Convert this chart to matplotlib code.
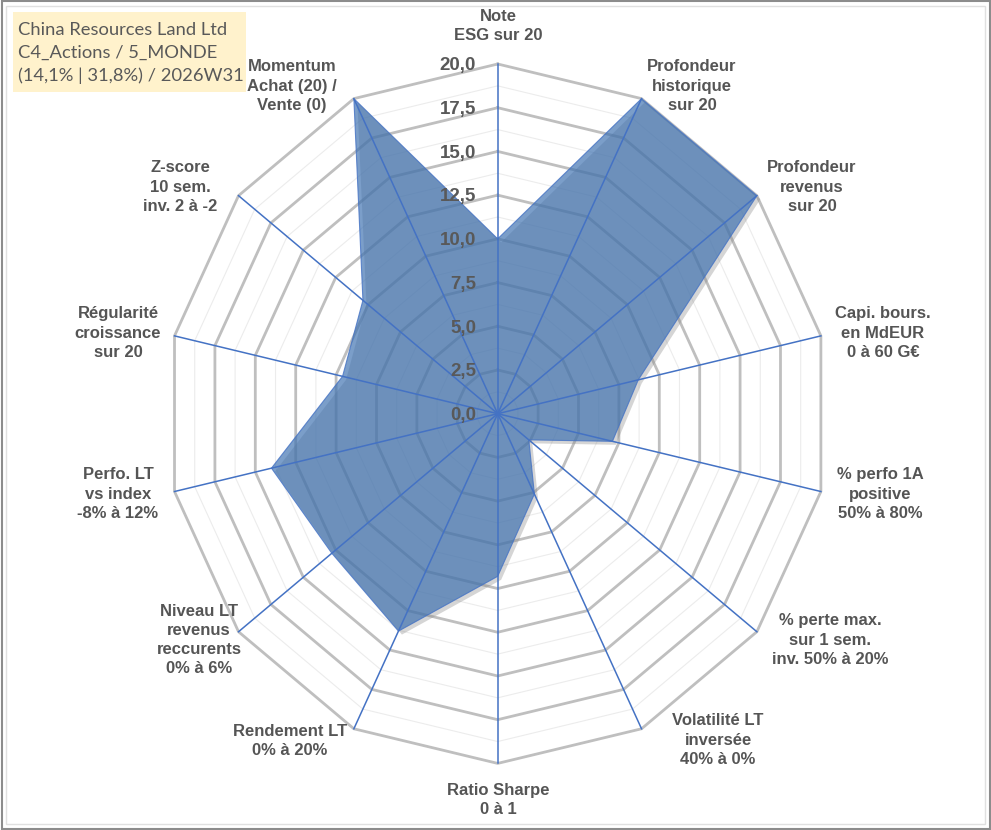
import numpy as np
import matplotlib
matplotlib.use('Agg')
import matplotlib.pyplot as plt
import matplotlib.patheffects as pe
from matplotlib.patches import Rectangle

# radar chart: one stock scored on 14 criteria (0..20)

criteres = ['Note\nESG sur 20',
            'Profondeur\nhistorique\nsur 20',
            'Profondeur\nrevenus\nsur 20',
            'Capi. bours.\nen MdEUR\n0 à 60 G€',
            '% perfo 1A\npositive\n50% à 80%',
            '% perte max.\nsur 1 sem.\ninv. 50% à 20%',
            'Volatilité LT\ninversée\n40% à 0%',
            'Ratio Sharpe\n0 à 1',
            'Rendement LT\n0% à 20%',
            'Niveau LT\nrevenus\nreccurents\n0% à 6%',
            'Perfo. LT\nvs index\n-8% à 12%',
            'Régularité\ncroissance\nsur 20',
            'Z-score\n10 sem.\ninv. 2 à -2',
            'Momentum\nAchat (20) /\nVente (0)']
notes = [10.0, 20.0, 20.0, 8.7, 7.1, 2.4, 5.1, 9.3, 13.8, 12.8, 14.0, 9.6, 10.4, 20.0]
ticks = [0.0, 2.5, 5.0, 7.5, 10.0, 12.5, 15.0, 17.5, 20.0]
titre = 'China Resources Land Ltd\nC4_Actions / 5_MONDE\n(14,1% | 31,8%) / 2026W31'

# label centres in pixels (layout only)
label_px = [(498, 26), (692, 86), (812, 187), (883, 333), (880, 494), (830, 640),
            (718, 740), (498, 800), (290, 741), (199, 640), (118, 494), (118, 333),
            (180, 187), (292, 86)]

W, H = 991, 830
CX, CY = 497.7, 413.7      # centre in pixels
RX, RY = 331.5, 349.7      # pixels for 20 units (picture is slightly squeezed)

fig = plt.figure(figsize=(W / 100, H / 100), dpi=100)
ax = fig.add_axes([0, 0, 1, 1])
ax.set_xlim(-CX / RX * 20, (W - CX) / RX * 20)
ax.set_ylim(-(H - CY) / RY * 20, CY / RY * 20)
ax.axis('off')

n = len(criteres)
theta = 2 * np.pi * np.arange(n) / n
sx, sy = np.sin(theta), np.cos(theta)
sx_c, sy_c = np.append(sx, sx[0]), np.append(sy, sy[0])

# grid rings
for lev in np.arange(1.25, 20.01, 1.25):
    if abs(lev / 2.5 - round(lev / 2.5)) < 1e-6:
        ax.plot(lev * sx_c, lev * sy_c, color='#bfbfbf', lw=2.0, zorder=1,
                solid_joinstyle='miter')
    else:
        ax.plot(lev * sx_c, lev * sy_c, color='#ececec', lw=0.8, zorder=0.5)

# series
v = np.array(notes)
vx, vy = np.append(v * sx, v[0] * sx[0]), np.append(v * sy, v[0] * sy[0])
ax.fill(vx, vy, color='#3c70b0', alpha=0.68, lw=0, zorder=2,
        path_effects=[pe.SimplePatchShadow(offset=(2.5, -2.5), shadow_rgbFace='#888888', alpha=0.35),
                      pe.Normal()])
ax.plot(vx, vy, color='#4472c4', lw=0.8, alpha=0.8, zorder=3)

# spokes
for k in range(n):
    ax.plot([0, 20 * sx[k]], [0, 20 * sy[k]], color='#4472c4', lw=1.1, zorder=4)

# radial tick labels
for t in ticks:
    ax.text(-1.3, t - 0.1, ('%.1f' % t).replace('.', ','), ha='right', va='center',
            fontsize=13.5, fontweight='bold', color='#595959', family='Liberation Sans', zorder=5)

# category labels
for lab, (px, py) in zip(criteres, label_px):
    fig.text(px / W, 1 - py / H, lab, ha='center', va='center', fontsize=12,
             fontweight='bold', color='#555555', family='Liberation Sans',
             linespacing=1.36, multialignment='center')

# title box
fig.patches.append(Rectangle((13 / W, 1 - 92 / H), 233 / W, 80 / H, transform=fig.transFigure,
                             facecolor='#fff2cc', edgecolor='none', zorder=0))
fig.text(18 / W, 1 - 53 / H, titre, ha='left', va='center', fontsize=13.2,
         color='#595959', family='Lato', linespacing=1.52)

# frame
fig.patches.append(Rectangle((1.5 / W, 1.5 / H), (W - 3) / W, (H - 3) / H, transform=fig.transFigure,
                             fill=False, edgecolor='#8c8c8c', lw=1.5))
fig.patches.append(Rectangle((6 / W, 6 / H), (W - 12) / W, (H - 12) / H, transform=fig.transFigure,
                             fill=False, edgecolor='#e0e0e0', lw=1.0))

fig.savefig('out.png', dpi=100)
